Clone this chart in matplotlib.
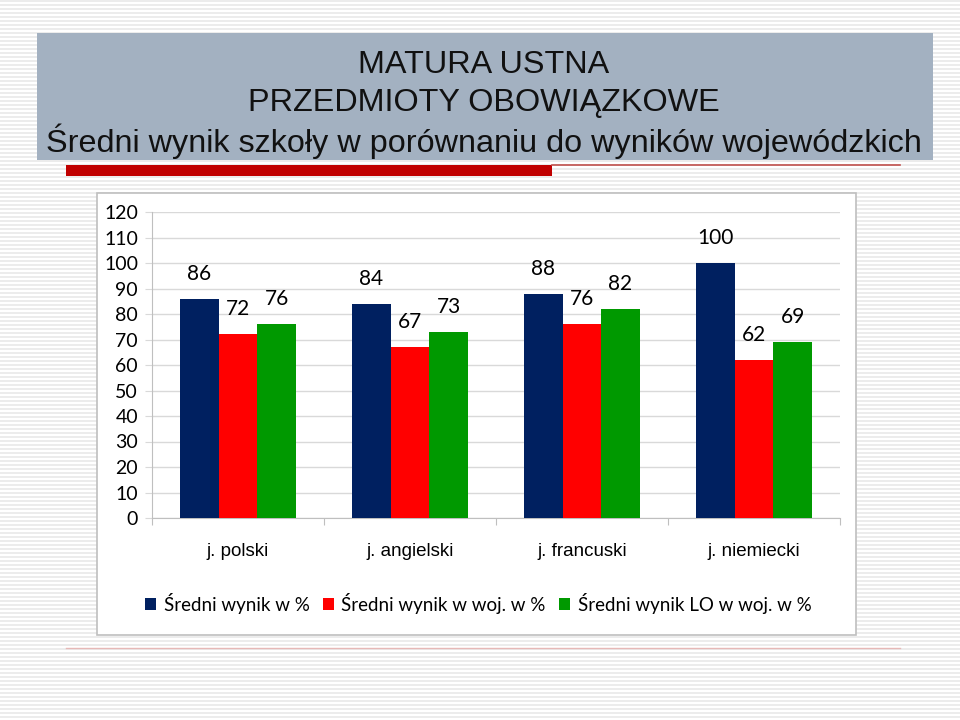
import matplotlib
matplotlib.use('Agg')
import matplotlib.pyplot as plt
from matplotlib.patches import Rectangle, Patch
import numpy as np

# data
subjects = ['j. polski', 'j. angielski', 'j. francuski', 'j. niemiecki']
school = [86, 84, 88, 100]
region = [72, 67, 76, 62]
region_lo = [76, 73, 82, 69]
series_names = ['Średni wynik w %', 'Średni wynik w woj. w %', 'Średni wynik LO w woj. w %']
series_colors = ['#002060', '#FF0000', '#009900']
title_lines = ['MATURA USTNA', 'PRZEDMIOTY OBOWIĄZKOWE',
               'Średni wynik szkoły w porównaniu do wyników wojewódzkich']

W, H = 960, 720
arial = ['Liberation Sans', 'DejaVu Sans']
calibri = ['Lato', 'DejaVu Sans']

fig = plt.figure(figsize=(W / 100, H / 100), dpi=100)

# background: slide with faint stripes
bg = fig.add_axes([0, 0, 1, 1])
bg.set_xlim(0, W)
bg.set_ylim(H, 0)
bg.axis('off')
for yy in np.arange(1, H, 4):
    bg.axhline(yy, color='#e9e9e9', lw=1.2, zorder=0)

# title band
bg.add_patch(Rectangle((37, 33), 896, 127, facecolor='#A3B1C1', edgecolor='none', zorder=1))
for txt, yy in zip(title_lines, [65, 103, 141]):
    bg.text(484, yy, txt, ha='center', va='center', fontsize=23.3, family=arial,
            color='#111111', zorder=2)
# red underline
bg.add_patch(Rectangle((66, 165), 486, 11, facecolor='#C00000', edgecolor='none', zorder=1))
bg.plot([552, 900], [164.5, 164.5], color='#C0504D', lw=1.2, zorder=1)
bg.plot([66, 900], [648, 648], color='#E6B8B7', lw=1.0, zorder=1)

# chart frame
bg.add_patch(Rectangle((97, 193), 759, 442, facecolor='white', edgecolor='#BFBFBF', lw=1.2, zorder=1))

# plot area
ax = fig.add_axes([152 / W, (H - 518) / H, (840 - 152) / W, (518 - 212) / H])
ax.set_facecolor('none')
x = np.arange(len(subjects))
bw = 0.224
for k, (vals, name, col) in enumerate(zip([school, region, region_lo], series_names, series_colors)):
    bars = ax.bar(x + (k - 1) * bw, vals, bw, color=col, label=name, zorder=3)
    for b, v in zip(bars, vals):
        ax.annotate(str(v), (b.get_x() + b.get_width() / 2, v), xytext=(0, 18),
                    textcoords='offset points', ha='center', va='center',
                    fontsize=15, family=calibri, color='black')

ax.set_ylim(0, 120)
ax.set_xlim(-0.5, len(subjects) - 0.5)
ax.set_yticks(np.arange(0, 121, 10))
ax.yaxis.grid(True, color='#D9D9D9', lw=1)
ax.set_axisbelow(True)
ax.set_xticks(np.arange(-0.5, len(subjects)), minor=False)
ax.set_xticklabels([])
ax.set_xticks(x, minor=True)
ax.set_xticklabels(subjects, minor=True, fontsize=13.5, family=arial)
ax.tick_params(axis='x', which='minor', length=0, pad=18)
ax.tick_params(axis='x', which='major', length=5, color='#BFBFBF')
ax.tick_params(axis='y', length=5, color='#D9D9D9', labelsize=14, pad=5)
for lbl in ax.get_yticklabels():
    lbl.set_family(calibri)
for s in ['top', 'right']:
    ax.spines[s].set_visible(False)
ax.spines['left'].set_color('#BFBFBF')
ax.spines['bottom'].set_color('#BFBFBF')

handles = [Patch(facecolor=c, label=n) for c, n in zip(series_colors, series_names)]
fig.legend(handles=handles, loc='center', bbox_to_anchor=(478 / W, (H - 603) / H), ncol=3,
           frameon=False, prop={'family': calibri, 'size': 13.5}, handlelength=0.6,
           handleheight=0.6, handletextpad=0.4, columnspacing=0.7)

fig.savefig('out.png', dpi=100)
